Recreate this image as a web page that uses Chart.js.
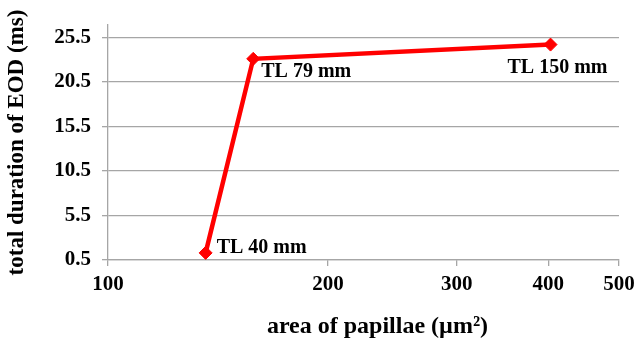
<!DOCTYPE html>
<html>
<head>
<meta charset="utf-8">
<script src="https://cdn.jsdelivr.net/npm/chart.js@4/dist/chart.umd.min.js"></script>
<style>
  html, body { margin: 0; padding: 0; background: #fff; }
  #wrap { width: 636px; height: 342px; position: relative; }
</style>
</head>
<body>
<div id="wrap"><canvas id="chart"></canvas></div>
<script>
// ── Data ──────────────────────────────────────────────────────────────────────
const papillaeArea = [136, 158, 403];          // µm²
const eodDuration  = [1.3, 23.1, 24.7];        // ms
const pointLabels  = ["TL 40 mm", "TL 79 mm", "TL 150 mm"];
const xTicks = [100, 200, 300, 400, 500];
const yTicks = [0.5, 5.5, 10.5, 15.5, 20.5, 25.5];

const FONT = "'Liberation Serif', 'Times New Roman', serif";
const GRID = "#a6a6a6";

// label placement relative to each point (dx, dy, align)
const labelPlacement = [
  { dx: 11, dy: -5,  align: "left" },
  { dx: 8,  dy: 13,  align: "left" },
  { dx: 7,  dy: 23,  align: "center" },
];

const pointLabelPlugin = {
  id: "pointLabels",
  afterDatasetsDraw(chart) {
    const ctx = chart.ctx;
    const meta = chart.getDatasetMeta(0);
    ctx.save();
    ctx.font = "bold 20px " + FONT;
    ctx.fillStyle = "#000";
    ctx.textBaseline = "middle";
    meta.data.forEach((pt, i) => {
      const p = labelPlacement[i];
      ctx.textAlign = p.align;
      ctx.fillText(pointLabels[i], pt.x + p.dx, pt.y + p.dy);
    });
    ctx.restore();
  }
};

const xTitlePlugin = {
  id: "xTitle",
  afterDraw(chart) {
    const ctx = chart.ctx;
    const area = chart.chartArea;
    ctx.save();
    ctx.font = "bold 24px " + FONT;
    ctx.fillStyle = "#000";
    ctx.textAlign = "center";
    ctx.textBaseline = "middle";
    ctx.fillText("area of papillae (\u00b5m\u00b2)", (area.left + area.right) / 2 + 14, 327);
    ctx.restore();
  }
};

new Chart(document.getElementById("chart"), {
  type: "line",
  data: {
    datasets: [{
      data: papillaeArea.map((x, i) => ({ x, y: eodDuration[i] })),
      borderColor: "#ff0000",
      backgroundColor: "#ff0000",
      borderWidth: 4.5,
      tension: 0,
      pointStyle: "rectRot",
      pointRadius: 6.5,
      pointBorderWidth: 1,
    }]
  },
  options: {
    responsive: true,
    maintainAspectRatio: false,
    animation: false,
    layout: { padding: { top: 25, right: 17, left: 0, bottom: 0 } },
    plugins: { legend: { display: false }, tooltip: { enabled: false } },
    scales: {
      x: {
        type: "logarithmic",
        min: 100, max: 500,
        afterBuildTicks: s => { s.ticks = xTicks.map(v => ({ value: v })); },
        afterFit: s => { s.height = 82; s.paddingLeft = 0; s.paddingRight = 0; },
        grid: { drawOnChartArea: false, drawTicks: true, tickLength: 6, color: GRID, lineWidth: 1.3 },
        border: { display: true, color: GRID, width: 1.3 },
        ticks: {
          color: "#000", font: { family: FONT, size: 21, weight: "bold" },
          padding: 6, autoSkip: false, maxRotation: 0,
          callback: v => String(v),
        },
      },
      y: {
        min: 0.5, max: 26.9,
        afterBuildTicks: s => { s.ticks = yTicks.map(v => ({ value: v })); },
        afterFit: s => { s.width = 108; },
        grid: { color: GRID, lineWidth: 1.3, drawTicks: true, tickLength: 6 },
        border: { display: true, color: GRID, width: 1.3 },
        ticks: {
          color: "#000", font: { family: FONT, size: 21, weight: "bold" },
          padding: 11, callback: v => v.toFixed(1),
        },
        title: {
          display: true, text: "total duration of EOD (ms)",
          color: "#000", font: { family: FONT, size: 23, weight: "bold" },
          padding: { top: 3, bottom: 0 },
        },
      },
    },
  },
  plugins: [pointLabelPlugin, xTitlePlugin],
});
</script>
</body>
</html>
